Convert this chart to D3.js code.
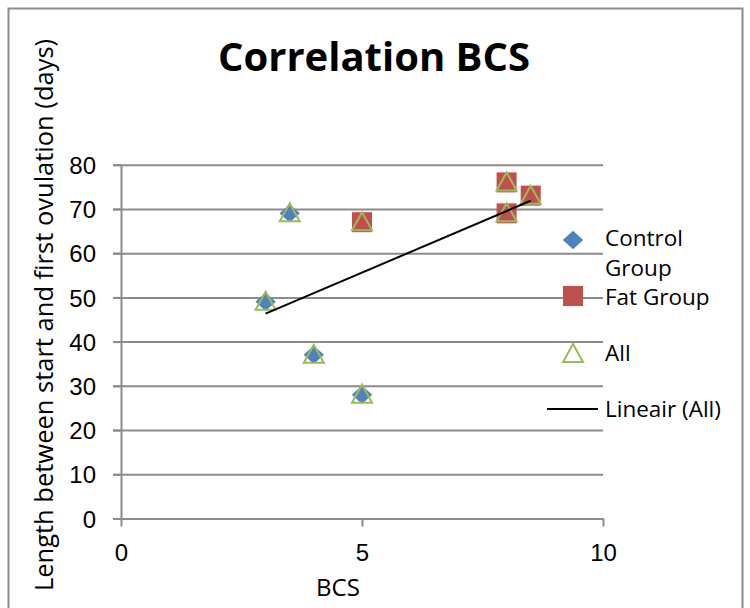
<!DOCTYPE html>
<html>
<head>
<meta charset="utf-8">
<script src="https://cdn.jsdelivr.net/npm/d3@7"></script>
<style>
  body { margin: 0; background: #fff; }
  svg { display: block; font-family: "Open Sans", sans-serif; }
  .axis path, .axis line { stroke: #8c8c8c; stroke-width: 2; }
  .axis text { font-size: 24px; fill: #000; }
  .grid line { stroke: #8c8c8c; stroke-width: 2; }
  .grid path { display: none; }
</style>
</head>
<body>
<svg id="chart" width="750" height="608"></svg>
<script>
// data
var controlX = [3, 3.5, 4, 5];
var controlY = [49, 69, 37, 28];
var fatX = [5, 8, 8, 8.5];
var fatY = [67, 76, 69, 73];
var allX = [3, 3.5, 4, 5, 5, 8, 8, 8.5];
var allY = [49, 69, 37, 28, 67, 76, 69, 73];
var xTicks = [0, 5, 10];
var yTicks = [0, 10, 20, 30, 40, 50, 60, 70, 80];
var legendNames = ["Control Group", "Fat Group", "All", "Lineair (All)"];

var svg = d3.select("#chart");
var x = d3.scaleLinear().domain([0, 10]).range([121, 603]);
var y = d3.scaleLinear().domain([0, 80]).range([518.5, 164.7]);

// outer frame
svg.append("rect")
    .attr("x", 8.5).attr("y", 8.5)
    .attr("width", 734).attr("height", 640)
    .attr("fill", "none")
    .attr("stroke", "#8c8c8c")
    .attr("stroke-width", 2);

// gridlines, they start at the tick ends
svg.append("g")
    .attr("class", "grid")
    .attr("transform", "translate(113,0)")
    .call(d3.axisLeft(y).tickValues(yTicks).tickSize(-(603 - 113)).tickFormat(""));

svg.append("g")
    .attr("class", "axis")
    .attr("transform", "translate(121,0)")
    .call(d3.axisLeft(y).tickValues(yTicks).tickSize(8).tickPadding(17).tickSizeOuter(0))
    .selectAll("text").attr("dy", "0.36em");

svg.append("g")
    .attr("class", "axis")
    .attr("transform", "translate(0," + y(0) + ")")
    .call(d3.axisBottom(x).tickValues(xTicks).tickSize(8).tickPadding(17).tickSizeOuter(0))
    .selectAll("text").attr("dy", "0.71em");

// titles
svg.append("text")
    .attr("x", 374).attr("y", 71)
    .attr("text-anchor", "middle")
    .attr("font-size", 40)
    .attr("font-weight", "bold")
    .text("Correlation BCS");

svg.append("text")
    .attr("x", 338).attr("y", 596)
    .attr("text-anchor", "middle")
    .attr("font-size", 24)
    .text("BCS");

svg.append("text")
    .attr("transform", "translate(53,315) rotate(-90)")
    .attr("text-anchor", "middle")
    .attr("font-size", 25.5)
    .text("Length between start and first ovulation (days)");

// markers
var diamond = d3.symbol().type(d3.symbolDiamond2).size(240);
var triangle = "M0,-10L10,8L-10,8Z";

svg.append("g").selectAll("path")
    .data(d3.range(controlX.length))
    .enter().append("path")
    .attr("d", diamond)
    .attr("transform", function (i) { return "translate(" + x(controlX[i]) + "," + y(controlY[i]) + ") scale(1.05,0.95)"; })
    .attr("fill", "#4f81bd");

svg.append("g").selectAll("rect")
    .data(d3.range(fatX.length))
    .enter().append("rect")
    .attr("x", function (i) { return x(fatX[i]) - 10; })
    .attr("y", function (i) { return y(fatY[i]) - 10; })
    .attr("width", 20).attr("height", 20)
    .attr("fill", "#c0504d");

svg.append("g").selectAll("path")
    .data(d3.range(allX.length))
    .enter().append("path")
    .attr("d", triangle)
    .attr("transform", function (i) { return "translate(" + x(allX[i]) + "," + y(allY[i]) + ")"; })
    .attr("fill", "none")
    .attr("stroke", "#9bbb59")
    .attr("stroke-width", 2);

// linear trend of All
var mx = d3.mean(allX), my = d3.mean(allY);
var sxy = d3.sum(allX, function (v, i) { return (v - mx) * (allY[i] - my); });
var sxx = d3.sum(allX, function (v) { return (v - mx) * (v - mx); });
var slope = sxy / sxx, icpt = my - slope * mx;
var x0 = d3.min(allX), x1 = d3.max(allX);
svg.append("line")
    .attr("x1", x(x0)).attr("y1", y(icpt + slope * x0))
    .attr("x2", x(x1)).attr("y2", y(icpt + slope * x1))
    .attr("stroke", "#000")
    .attr("stroke-width", 2);

// legend
var lg = svg.append("g").attr("font-size", 22.5);
lg.append("path").attr("d", diamond)
    .attr("transform", "translate(573,240) scale(1.05,0.95)")
    .attr("fill", "#4f81bd");
var t0 = lg.append("text").attr("x", 605).attr("y", 246);
t0.append("tspan").attr("x", 605).text(legendNames[0].split(" ")[0]);
t0.append("tspan").attr("x", 605).attr("dy", 30).text(legendNames[0].split(" ")[1]);

lg.append("rect").attr("x", 563).attr("y", 286).attr("width", 20).attr("height", 20)
    .attr("fill", "#c0504d");
lg.append("text").attr("x", 605).attr("y", 305).text(legendNames[1]);

lg.append("path").attr("d", triangle)
    .attr("transform", "translate(573,354)")
    .attr("fill", "none").attr("stroke", "#9bbb59").attr("stroke-width", 2);
lg.append("text").attr("x", 605).attr("y", 361).text(legendNames[2]);

lg.append("line").attr("x1", 547).attr("x2", 598).attr("y1", 409).attr("y2", 409)
    .attr("stroke", "#000").attr("stroke-width", 2);
lg.append("text").attr("x", 605).attr("y", 417).text(legendNames[3]);
</script>
</body>
</html>
